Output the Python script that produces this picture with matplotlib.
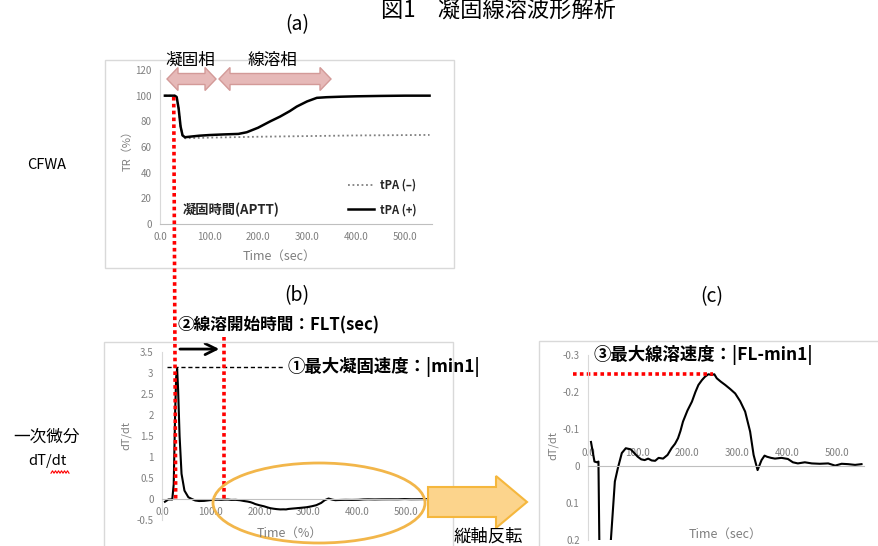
import matplotlib
matplotlib.use('Agg')
import matplotlib.pyplot as plt
from matplotlib.patches import Rectangle, Ellipse, Polygon
from matplotlib.lines import Line2D
from matplotlib.ticker import FuncFormatter
import numpy as np

plt.rcParams['font.family'] = ['Noto Sans CJK JP', 'DejaVu Sans']

W, H = 879, 546

# (a) CFWA transmittance curves
tr_time = [10, 30, 34, 38, 42, 46, 51, 60, 80, 100, 130, 160, 177, 200, 225, 245,
           265, 279, 300, 320, 340, 370, 400, 450, 500, 550]
tr_tpa_plus = [100, 100, 99, 90, 76, 69, 67.6, 68, 68.8, 69.3, 69.8, 70.2, 71.5, 75,
               80, 83.7, 88, 91.5, 95.5, 98.3, 98.8, 99.2, 99.5, 99.8, 100, 100]
tr_minus_time = [10, 30, 34, 38, 42, 46, 51, 100, 200, 300, 400, 550]
tr_tpa_minus = [100, 100, 99, 90, 76, 69, 66.8, 67.3, 68, 68.5, 69, 69.4]

# (b) first derivative, (c) same data with inverted y axis
dt_time = [6, 13, 18, 21, 24, 27, 29, 31, 33, 36, 40, 46, 54, 60, 68, 76, 86, 93,
           100, 107, 114, 121, 128, 135, 142, 151, 160, 168, 175, 181, 186, 191,
           200, 209, 216, 222, 229, 235, 242, 249, 254, 259, 267, 276, 286, 296,
           306, 316, 326, 333, 341, 349, 355, 360, 368, 376, 389, 402, 412, 422,
           436, 450, 466, 483, 497, 510, 523, 537, 550]
dt_value = [-0.065, -0.012, -0.01, -0.012, 0.35, 2.1, 2.9, 3.1, 2.6, 1.5, 0.6, 0.2,
            0.042, 0.006, -0.035, -0.048, -0.045, -0.035, -0.025, -0.018, -0.016,
            -0.02, -0.015, -0.014, -0.022, -0.02, -0.03, -0.048, -0.06, -0.075,
            -0.095, -0.12, -0.15, -0.174, -0.2, -0.219, -0.232, -0.241, -0.248,
            -0.246, -0.248, -0.237, -0.228, -0.219, -0.208, -0.196, -0.175, -0.147,
            -0.093, -0.03, 0.011, -0.016, -0.028, -0.025, -0.022, -0.02, -0.022,
            -0.019, -0.01, -0.007, -0.01, -0.007, -0.006, -0.007, -0.001, -0.006,
            -0.005, -0.003, -0.005]

APTT_SEC = 28      # clotting time
FLT_SEC = 126      # fibrinolysis start time
MIN1 = 3.14        # max clotting velocity
FL_MIN1 = -0.25    # max fibrinolysis velocity

x_ticks = [0, 100, 200, 300, 400, 500]
tr_ticks = [0, 20, 40, 60, 80, 100, 120]
b_ticks = [-0.5, 0, 0.5, 1, 1.5, 2, 2.5, 3, 3.5]
c_ticks = [-0.3, -0.2, -0.1, 0, 0.1, 0.2]

GRAY_TXT = '#7f7f7f'
AXIS_C = '#d9d9d9'


def px(x, y):
    return (x / W, 1 - y / H)


def add_axes(left, top, right, bottom):
    return fig.add_axes([left / W, 1 - bottom / H, (right - left) / W, (bottom - top) / H])


def excel_style(ax, xlim, ylim, yticks):
    for s in ax.spines.values():
        s.set_visible(False)
    ax.spines['left'].set_visible(True)
    ax.spines['left'].set_color(AXIS_C)
    ax.patch.set_alpha(0)
    ax.set_xlim(*xlim)
    ax.set_ylim(*ylim)
    ax.set_xticks(x_ticks)
    ax.set_yticks(yticks)
    ax.xaxis.set_major_formatter(FuncFormatter(lambda v, p: '%.1f' % v))
    ax.yaxis.set_major_formatter(FuncFormatter(lambda v, p: '%g' % round(v, 2)))
    ax.tick_params(length=0, labelsize=7, colors=GRAY_TXT, pad=6)


def frame(x0, y0, x1, y1):
    fig.add_artist(Rectangle(px(x0, y1), (x1 - x0) / W, (y1 - y0) / H,
                             transform=fig.transFigure, fill=False,
                             edgecolor=AXIS_C, lw=1))


def block_darrow(x0, x1, yc, bh, hh, hl, **kw):
    pts = [(x0, yc), (x0 + hl, yc - hh / 2), (x0 + hl, yc - bh / 2), (x1 - hl, yc - bh / 2),
           (x1 - hl, yc - hh / 2), (x1, yc), (x1 - hl, yc + hh / 2), (x1 - hl, yc + bh / 2),
           (x0 + hl, yc + bh / 2), (x0 + hl, yc + hh / 2)]
    fig.add_artist(Polygon([px(*p) for p in pts], closed=True,
                           transform=fig.transFigure, **kw))


def block_arrow(x0, x1, yc, bh, hh, hl, **kw):
    pts = [(x0, yc - bh / 2), (x1 - hl, yc - bh / 2), (x1 - hl, yc - hh / 2), (x1, yc),
           (x1 - hl, yc + hh / 2), (x1 - hl, yc + bh / 2), (x0, yc + bh / 2)]
    fig.add_artist(Polygon([px(*p) for p in pts], closed=True,
                           transform=fig.transFigure, **kw))


fig = plt.figure(figsize=(W / 100, H / 100), dpi=100)

# panel frames
frame(105, 60, 454, 268)
frame(104, 342, 453, 560)
frame(539, 341, 895, 560)

# ---- (a) ----
axA = add_axes(160, 70, 432, 224)
excel_style(axA, (0, 555), (0, 120), tr_ticks)
axA.spines['bottom'].set_visible(True)
axA.spines['bottom'].set_color('#bfbfbf')
axA.plot(tr_minus_time, tr_tpa_minus, color='#808080', lw=1.3, ls=(0, (1, 1.5)),
         label='tPA (–)', zorder=2)
axA.plot(tr_time, tr_tpa_plus, color='black', lw=1.8, label='tPA (+)', zorder=3)
leg = axA.legend(loc='center left', bbox_to_anchor=(0.69, 0.172), frameon=False,
                 fontsize=8, handlelength=2.4, handletextpad=0.5, labelspacing=1.0,
                 borderpad=0, borderaxespad=0)
for t in leg.get_texts():
    t.set_fontweight('bold')
    t.set_color('#262626')
axA.text(APTT_SEC + 18, 11, '凝固時間(APTT)', fontsize=9.5, fontweight='bold',
         color='#262626', va='center')
fig.text(*px(127, 148), 'TR（%）', rotation=90, ha='center', va='center',
         fontsize=8, color=GRAY_TXT)
fig.text(*px(279, 256), 'Time（sec）', ha='center', va='center', fontsize=9, color=GRAY_TXT)

# ---- (b) ----
axB = add_axes(162, 352, 433, 520)
excel_style(axB, (0, 555), (-0.5, 3.5), b_ticks)
axB.spines['bottom'].set_visible(True)
axB.spines['bottom'].set_color('#bfbfbf')
axB.spines['bottom'].set_position(('data', 0))
axB.plot(dt_time, dt_value, color='black', lw=1.5)
fig.text(*px(126, 435), 'dT/dt', rotation=90, ha='center', va='center',
         fontsize=8, color=GRAY_TXT)
fig.text(*px(290, 533), 'Time（%）', ha='center', va='center', fontsize=9, color=GRAY_TXT)

# ---- (c) ----
axC = add_axes(588, 355, 864, 540)
excel_style(axC, (0, 555), (0.2, -0.3), c_ticks)
axC.spines['top'].set_visible(True)
axC.spines['top'].set_color('#bfbfbf')
axC.spines['top'].set_position(('data', 0))
axC.xaxis.set_ticks_position('top')
axC.plot(dt_time, dt_value, color='black', lw=1.5)
fig.text(*px(553, 445), 'dT/dt', rotation=90, ha='center', va='center',
         fontsize=8, color=GRAY_TXT)
fig.text(*px(725, 534), 'Time（sec）', ha='center', va='center', fontsize=9, color=GRAY_TXT)

# ---- annotations ----
RED = '#ff0000'
red_dots = dict(color=RED, lw=2.6, ls=(0, (1, 0.9)))

# clotting time line through (a) and (b)
inv = fig.transFigure.inverted()
p_top = inv.transform(axA.transData.transform((APTT_SEC, 99)))
p_bot = inv.transform(axB.transData.transform((APTT_SEC, 0)))
fig.add_artist(Line2D([p_top[0], p_bot[0]], [p_top[1], p_bot[1]],
                      transform=fig.transFigure, zorder=5, **red_dots))
axB.plot([FLT_SEC, FLT_SEC], [3.85, 0], clip_on=False, zorder=5, **red_dots)
axB.annotate('', xy=(FLT_SEC - 3, 3.57), xytext=(APTT_SEC + 3, 3.57),
             arrowprops=dict(arrowstyle='->', lw=2, color='black', mutation_scale=20),
             annotation_clip=False)
axB.text(APTT_SEC + 3, 4.12, '②線溶開始時間：FLT(sec)', fontsize=12, fontweight='bold',
         va='center', ha='left')
axB.plot([11, 247], [MIN1, MIN1], color='black', lw=1, ls=(0, (3, 2)), clip_on=False)
axB.text(257, MIN1, '①最大凝固速度：|min1|', fontsize=12.5, fontweight='bold',
         va='center', ha='left')

axC.plot([-30, 251], [FL_MIN1, FL_MIN1], clip_on=False, **red_dots)
axC.text(12, -0.3, '③最大線溶速度：|FL-min1|', fontsize=12.5, fontweight='bold',
         va='center', ha='left')

# phase arrows
pink = dict(facecolor='#e6b9b8', edgecolor='#d39a98', lw=1)
block_darrow(167, 216, 79, 11, 23, 11, **pink)
block_darrow(219, 331, 79, 11, 23, 11, **pink)
fig.text(*px(190, 60), '凝固相', ha='center', va='center', fontsize=12)
fig.text(*px(272, 60), '線溶相', ha='center', va='center', fontsize=12)

# lysis region ellipse and inversion arrow
fig.add_artist(Ellipse(px(319, 503), 212 / W, 80 / H, transform=fig.transFigure,
                       fill=False, edgecolor='#f2b64a', lw=2))
block_arrow(428, 527, 502, 30, 52, 31, facecolor='#fcd48c', edgecolor='#f5b73d', lw=1.5)
fig.text(*px(488, 537), '縦軸反転', ha='center', va='center', fontsize=12.5)

# panel titles and row labels
fig.text(*px(498, 10), '図1　凝固線溶波形解析', ha='center', va='center', fontsize=16)
fig.text(*px(297, 25), '(a)', ha='center', va='center', fontsize=14)
fig.text(*px(297, 296), '(b)', ha='center', va='center', fontsize=14)
fig.text(*px(712, 297), '(c)', ha='center', va='center', fontsize=14)
fig.text(*px(47, 165), 'CFWA', ha='center', va='center', fontsize=10.5)
fig.text(*px(47, 437), '一次微分', ha='center', va='center', fontsize=12)
fig.text(*px(47, 461), 'dT/dt', ha='center', va='center', fontsize=10.5)
wx = np.linspace(51, 69, 13)
wy = 472 + 1.2 * (-1) ** np.arange(13)
fig.add_artist(Line2D(wx / W, 1 - wy / H, transform=fig.transFigure, color=RED, lw=0.8))

fig.savefig('out.png', dpi=100)
